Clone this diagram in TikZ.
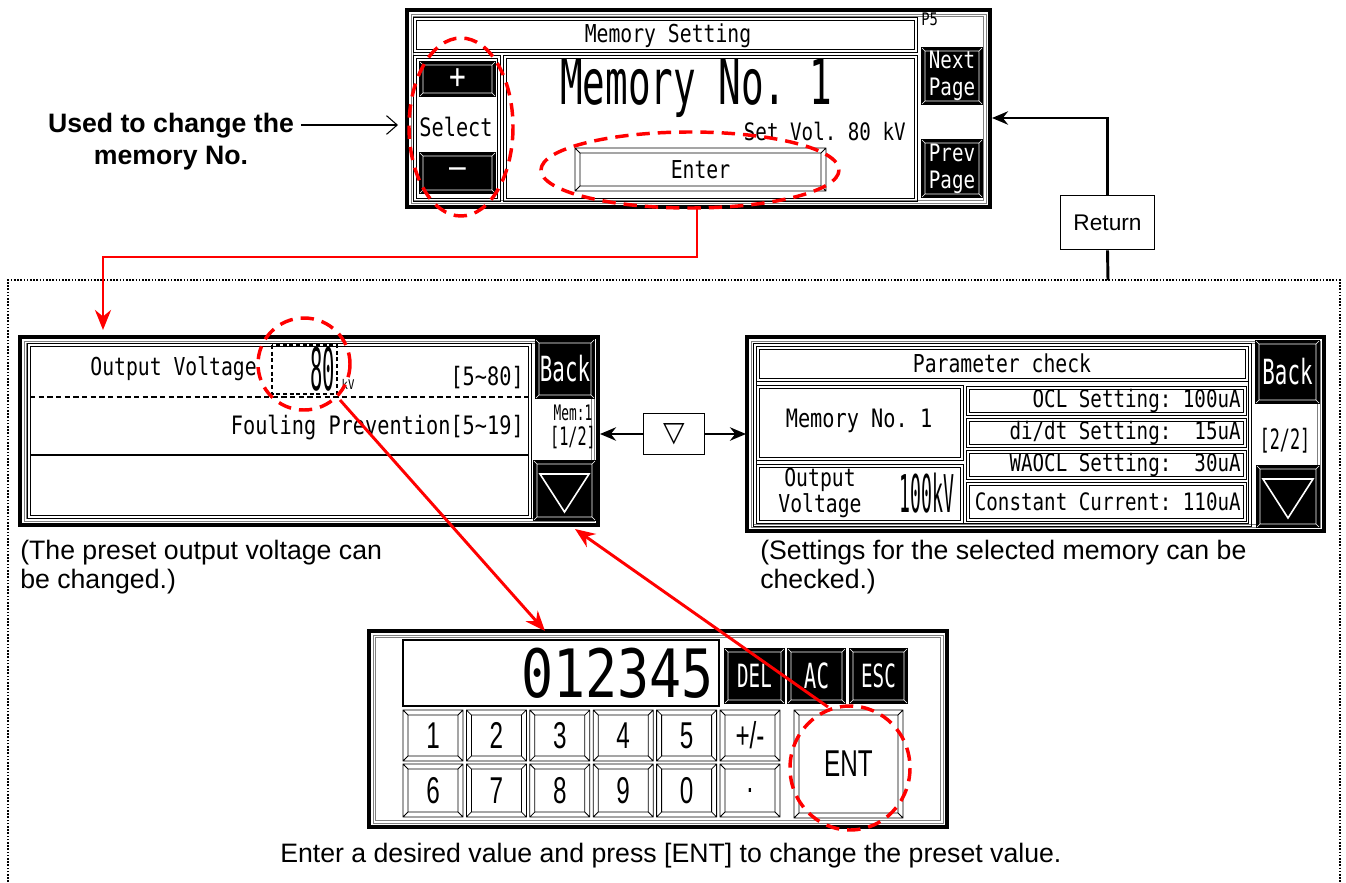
\documentclass[tikz,border=0pt]{standalone}
\usepackage{fontspec}
\setmainfont{Liberation Sans}
\newfontfamily\lcd[FakeStretch=0.8]{DejaVu Sans Mono}
\newfontfamily\lcdnarrow[FakeStretch=0.6]{DejaVu Sans Mono}
\newfontfamily\lcdthin[FakeStretch=0.35]{DejaVu Sans Mono}
\newfontfamily\keyfont[FakeStretch=0.65]{Liberation Sans}
\newfontfamily\symfont{DejaVu Sans}
\usetikzlibrary{arrows.meta, positioning, calc}
\frenchspacing

\newcommand{\fsz}[1]{\fontsize{#1}{#1}\selectfont}
% LCD panel frame: x1, y1, x2, y2
\newcommand{\lcdpanel}[4]{%
  \draw[line width=2.4pt, fill=white] (#1,#2) rectangle (#3,#4);
  \draw[gray, line width=0.6pt] (#1+4,#2+4) rectangle (#3-4,#4-4) (#1+6.5,#2+6.5) rectangle (#3-6.5,#4-6.5);}
% double framed box: x1, y1, x2, y2
\newcommand{\dblbox}[4]{%
  \draw[frameline] (#1,#2) rectangle (#3,#4) (#1+3,#2+3) rectangle (#3-3,#4-3);}
% black touch key: name, x1, y1, x2, y2, font, label
\newcommand{\blackkey}[7]{%
  \fill (#2,#3) rectangle (#4,#5);
  \draw[white, line width=0.5pt] (#2+4,#3+4) rectangle (#4-4,#5-4)
    (#2+1,#3+1) -- (#2+4,#3+4) (#4-1,#3+1) -- (#4-4,#3+4)
    (#2+1,#5-1) -- (#2+4,#5-4) (#4-1,#5-1) -- (#4-4,#5-4);
  \node[blacktxt, font={#6}] (#1) at ({(#2+#4)/2},{(#3+#5)/2}) {#7};}
% white touch key: name, x1, y1, x2, y2, font, label
\newcommand{\whitekey}[7]{%
  \draw[keyline] (#2,#3) rectangle (#4,#5) (#2+5,#3+5) rectangle (#4-5,#5-5)
    (#2,#3) -- (#2+5,#3+5) (#4,#3) -- (#4-5,#3+5)
    (#2,#5) -- (#2+5,#5-5) (#4,#5) -- (#4-5,#5-5);
  \node[lcdtxt, font={#6}] (#1) at ({(#2+#4)/2},{(#3+#5)/2}) {#7};}

\begin{document}
\begin{tikzpicture}[x=0.75pt, y=-0.75pt, >=Stealth,
    frameline/.style={draw=black, line width=0.6pt},
    keyline/.style={draw=black, line width=0.6pt},
    blacktxt/.style={text=white, inner sep=0, align=center},
    lcdtxt/.style={inner sep=0, align=center},
    captext/.style={font=\fontsize{20}{22}\selectfont, align=left, inner sep=0},
    reddash/.style={draw=red, line width=2.6pt, dash pattern=on 10pt off 6pt},
    redarrow/.style={draw=red, line width=2.2pt, -{Stealth[length=15pt, width=12pt]}},
    blkarrow/.style={draw=black, line width=2.2pt, -{Stealth[length=12pt, width=10pt]}},
    plainbox/.style={draw, line width=0.8pt, fill=white, inner sep=0}]

\useasboundingbox (0,0) rectangle (1346,882);

% outer dotted frame
\draw[line width=1.2pt, dash pattern=on 1.2pt off 1.2pt] (8,882) -- (8,280) -- (1340,280) -- (1340,882);

% memory setting screen
\lcdpanel{407}{10}{990}{207}
\dblbox{413}{17}{917}{52}
\node[lcdtxt, font=\lcd\fsz{18.5}] (msettitle) at (668,36) {Memory Setting};
\node[lcdtxt, anchor=north west, font=\lcd\fsz{13}] (pagenum) at (921,13) {P5};
\dblbox{413}{55}{500}{201}
\dblbox{503}{55}{917}{201}
\blackkey{plusbtn}{419}{61}{496}{97}{\lcd\fsz{26}}{+}
\node[lcdtxt, font=\lcd\fsz{19}] (selecttxt) at (456,127) {Select};
\blackkey{minusbtn}{419}{152}{496}{194}{\lcd\fsz{26}}{–}
\node[lcdtxt, font=\lcdnarrow\fsz{47}] (memno) at (696,88) {Memory No. 1};
\node[lcdtxt, anchor=east, font=\lcd\fsz{18}] (setvol) at (906,131) {Set Vol. 80 kV};
\whitekey{enterbtn}{575}{148}{826}{191}{\lcd\fsz{18.5}}{Enter}
\blackkey{nextbtn}{921}{47}{983}{105}{\lcd\fontsize{18}{20}\selectfont}{Next\\Page}
\blackkey{prevbtn}{921}{139}{983}{198}{\lcd\fontsize{18}{20}\selectfont}{Prev\\Page}
\draw[reddash] (461,127) ellipse [x radius=52, y radius=89];
\draw[reddash] (690,170) ellipse [x radius=149, y radius=38];

\node[captext, anchor=north, align=center, font=\bfseries\fontsize{20}{24}\selectfont] (usedtxt) at (171,113) {Used to change the\\memory No.};
\coordinate (selpanel-w) at (398,125);
\draw[line width=0.8pt, -{Straight Barb[length=8pt, width=14pt]}] ([xshift=5pt]usedtxt.east |- selpanel-w) -- (selpanel-w);

% return path
\node[plainbox, minimum width=70pt, minimum height=41pt, font=\fontsize{17}{17}\selectfont] (retbox) at (1107.5,222.5) {Return};
\coordinate (frametop) at (1108,280);
\coordinate (topscr-e) at (992,118);
\draw[line width=2.2pt] (frametop) -- (retbox.south);
\draw[blkarrow] (retbox.north) |- (topscr-e);

% output voltage screen
\lcdpanel{20}{337}{598}{525}
\dblbox{27}{343}{531}{518}
\node[lcdtxt, anchor=east, font=\lcd\fsz{18.5}] (outvtxt) at (257,369) {Output Voltage};
\draw[line width=0.8pt, dash pattern=on 3pt off 2pt] (272,345) rectangle (337,394);
\node[lcdtxt, anchor=east, font=\lcdthin\fsz{44}] (outvval) at (335,369) {80};
\node[lcdtxt, font=\lcd\fsz{10}] (outvunit) at (348,384) {kV};
\node[lcdtxt, anchor=east, font=\lcd\fsz{19}] (outvrange) at (524,378) {[5\textasciitilde80]};
\draw[line width=0.8pt, dash pattern=on 4pt off 2.5pt] (30,397) -- (528,397);
\node[lcdtxt, anchor=east, font=\lcd\fsz{19}] (foultxt) at (524,428) {Fouling Prevention[5\textasciitilde19]};
\draw[line width=1.4pt] (30,455) -- (528,455);
\blackkey{lbackbtn}{535}{339}{595}{399}{\lcdnarrow\fsz{26}}{Back}
\node[lcdtxt, font=\lcdnarrow\fsz{16}] (lmem) at (573,413) {Mem:1};
\node[lcdtxt, font=\lcdnarrow\fsz{19}] (lpage) at (573,438) {[1/2]};
\blackkey{ldownbtn}{533}{460}{596}{521}{}{}
\draw[white, line width=1.2pt] (540,474) -- (589,474) -- (564.5,512) -- cycle;
\draw[reddash] (304,364) circle [radius=46];

\node[captext, anchor=north west] (leftcap) at (20,540) {(The preset output voltage can\\be changed.)};

% page switch
\node[plainbox, minimum width=46pt, minimum height=31pt, font=\symfont\fsz{21}] (swapbox) at (674,434) {▽};
\coordinate (leftscr-e) at (600,434);
\coordinate (rightscr-w) at (746,434);
\draw[blkarrow] (swapbox.west) -- (leftscr-e);
\draw[blkarrow] (swapbox.east) -- (rightscr-w);

% parameter check screen
\lcdpanel{747}{337}{1324}{531}
\dblbox{753}{343}{1251}{526}
\dblbox{756}{346}{1248}{381}
\node[lcdtxt, font=\lcd\fsz{18.5}] (partitle) at (1002,363) {Parameter check};
\blackkey{rbackbtn}{1255}{340}{1320}{404}{\lcdnarrow\fsz{26}}{Back}
\dblbox{756}{385}{963}{460}
\node[lcdtxt, font=\lcd\fsz{19}] (rmemno) at (859,421) {Memory No. 1};
\dblbox{756}{464}{963}{523}
\node[lcdtxt, font=\lcd\fontsize{18.5}{16}\selectfont] (routtxt) at (820,493) {Output\\Voltage};
\node[lcdtxt, font=\lcdthin\fsz{39}] (routval) at (927,493) {100kV};
\dblbox{966}{386}{1246}{415}
\node[lcdtxt, anchor=east, font=\lcd\fsz{18}] (oclrow) at (1241,401) {OCL Setting: 100uA};
\dblbox{966}{418}{1246}{447}
\node[lcdtxt, anchor=east, font=\lcd\fsz{18}] (didtrow) at (1241,433) {di/dt Setting:\ \ 15uA};
\dblbox{966}{450}{1246}{479}
\node[lcdtxt, anchor=east, font=\lcd\fsz{18}] (waoclrow) at (1241,465) {WAOCL Setting:\ \ 30uA};
\dblbox{966}{482}{1246}{521}
\node[lcdtxt, anchor=east, font=\lcd\fsz{18}] (ccrow) at (1241,502) {Constant Current: 110uA};
\node[lcdtxt, font=\lcdnarrow\fsz{21}] (rpage) at (1285,441) {[2/2]};
\blackkey{rdownbtn}{1256}{465}{1320}{528}{}{}
\draw[white, line width=1.2pt] (1263,479) -- (1313,479) -- (1288,518) -- cycle;

\node[captext, anchor=north west] (rightcap) at (760,540) {(Settings for the selected memory can be\\checked.)};

% numeric keypad
\lcdpanel{369}{631}{947}{827}
\draw[line width=0.8pt] (403,640) rectangle (719,706);
\node[lcdtxt, anchor=east, font=\lcd\fsz{50}] (kpval) at (714,673) {012345};
\blackkey{delkey}{724}{648}{785}{704}{\lcdnarrow\fsz{24}}{DEL}
\blackkey{ackey}{787}{648}{846}{704}{\lcdnarrow\fsz{26}}{AC}
\blackkey{esckey}{849}{648}{908}{704}{\lcdnarrow\fsz{24}}{ESC}
\foreach \k [count=\i from 0] in {1,2,3,4,5}
  \whitekey{numa\i}{403+63.4*\i}{710}{463+63.4*\i}{761}{\keyfont\fsz{28}}{\k};
\whitekey{signkey}{720}{710}{780}{761}{\keyfont\fsz{28}}{+/-}
\foreach \k [count=\i from 0] in {6,7,8,9,0}
  \whitekey{numb\i}{403+63.4*\i}{764}{463+63.4*\i}{817}{\keyfont\fsz{28}}{\k};
\whitekey{dotkey}{720}{764}{780}{817}{\keyfont\fsz{28}}{.}
\whitekey{entkey}{794}{710}{903}{818}{\keyfont\fsz{28}}{ENT}
\draw[reddash] (850,768) ellipse [x radius=60, y radius=62];

\node[captext, anchor=north west] (kpadcap) at (280,843) {Enter a desired value and press [ENT] to change the preset value.};

% red flow arrows
\coordinate (enterdrop) at (697,208);
\coordinate (leftscr-n) at (103,330);
\draw[redarrow] (enterdrop) -- ++(0,49) -| (leftscr-n);
\coordinate (outv-s) at (340,400);
\coordinate (kpad-n) at (545,631);
\draw[redarrow] (outv-s) -- (kpad-n);
\coordinate (entkey-nw) at (828,707);
\coordinate (leftscr-se) at (575,529);
\draw[redarrow] (entkey-nw) -- (leftscr-se);
\end{tikzpicture}
\end{document}
